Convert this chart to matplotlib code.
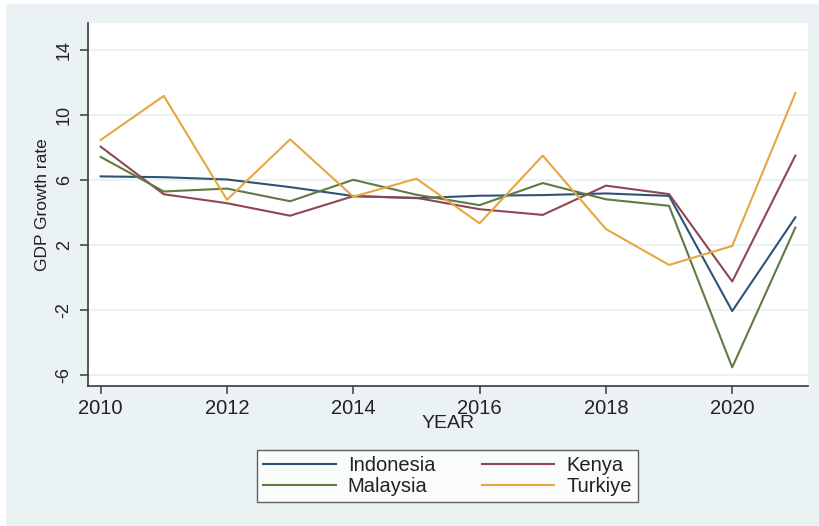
import matplotlib.pyplot as plt
from matplotlib.patches import Rectangle

# ==========================================
# DANE
# ==========================================
YEARS = [2010, 2011, 2012, 2013, 2014, 2015, 2016, 2017, 2018, 2019, 2020, 2021]

INDONESIA = [6.22, 6.17, 6.03, 5.56, 5.01, 4.88, 5.03, 5.07, 5.17, 5.02, -2.07, 3.70]
KENYA = [8.05, 5.12, 4.57, 3.80, 5.00, 4.90, 4.20, 3.85, 5.65, 5.13, -0.25, 7.50]
MALAYSIA = [7.42, 5.29, 5.47, 4.69, 6.01, 5.09, 4.45, 5.81, 4.81, 4.41, -5.53, 3.07]
TURKIYE = [8.46, 11.17, 4.78, 8.50, 4.97, 6.08, 3.33, 7.50, 2.98, 0.77, 1.94, 11.35]

SERIES = [
    ('Indonesia', INDONESIA, '#2c5479'),
    ('Kenya', KENYA, '#8f4654'),
    ('Malaysia', MALAYSIA, '#5f7a42'),
    ('Turkiye', TURKIYE, '#e7a640'),
]

X_TICKS = [2010, 2012, 2014, 2016, 2018, 2020]
Y_TICKS = [-6, -2, 2, 6, 10, 14]

BG = '#eaf2f3'
FONT = ['Liberation Sans', 'DejaVu Sans']


def make_plot():
    plt.rcParams['font.family'] = FONT
    fig = plt.figure(figsize=(8.19, 5.26), dpi=100, facecolor='white')

    # jasne tlo w stylu Stata (z cienka biala ramka u gory i z lewej)
    fig.patches.append(Rectangle((6 / 819, 0), 1 - 6 / 819, 1 - 4 / 526,
                                 transform=fig.transFigure, facecolor=BG,
                                 edgecolor='none', zorder=-10))

    ax = fig.add_axes([88 / 819, 1 - 386 / 526, 720 / 819, 363 / 526])
    ax.set_facecolor('white')

    handles = {}
    for name, vals, color in SERIES:
        line, = ax.plot(YEARS, vals, color=color, linewidth=1.5, label=name)
        handles[name] = line

    ax.set_xlim(2009.8, 2021.2)
    ax.set_ylim(-6.68, 15.66)
    ax.set_xticks(X_TICKS)
    ax.set_yticks(Y_TICKS)
    ax.set_yticklabels([str(v) for v in Y_TICKS], rotation=90, va='center')

    # siatka tylko poziomo, bardzo jasna
    ax.yaxis.grid(True, color=BG, linewidth=1.5)
    ax.set_axisbelow(True)

    for side in ['top', 'right']:
        ax.spines[side].set_visible(False)
    for side in ['left', 'bottom']:
        ax.spines[side].set_color('#3a3a3a')
        ax.spines[side].set_linewidth(1.2)

    ax.tick_params(axis='x', direction='out', length=6, width=1.1, color='#3a3a3a',
                   labelsize=14.5, labelcolor='#222222', pad=3)
    ax.tick_params(axis='y', direction='out', length=6, width=1.1, color='#3a3a3a',
                   labelsize=13, labelcolor='#222222', pad=5)

    ax.set_ylabel('GDP Growth rate', fontsize=12.5, color='#222222', labelpad=4)
    ax.set_xlabel('YEAR', fontsize=14, color='#222222', labelpad=-2)

    # legenda pod wykresem, 2 kolumny (kolejnosc jak w Stata)
    order = ['Indonesia', 'Malaysia', 'Kenya', 'Turkiye']
    leg = fig.legend([handles[n] for n in order], order, ncol=2,
                     loc='center', bbox_to_anchor=(447.5 / 819, 1 - 476 / 526),
                     fontsize=14.5, frameon=True, fancybox=False,
                     handlelength=3.6, handletextpad=0.6, columnspacing=2.3,
                     labelspacing=0.1, borderpad=0.3)
    leg.get_frame().set_edgecolor('#3a3a3a')
    leg.get_frame().set_linewidth(1.0)
    leg.get_frame().set_facecolor('white')
    for t in leg.get_texts():
        t.set_color('#222222')

    fig.savefig('out.png', dpi=100, facecolor=fig.get_facecolor())
    plt.close(fig)


if __name__ == "__main__":
    make_plot()
